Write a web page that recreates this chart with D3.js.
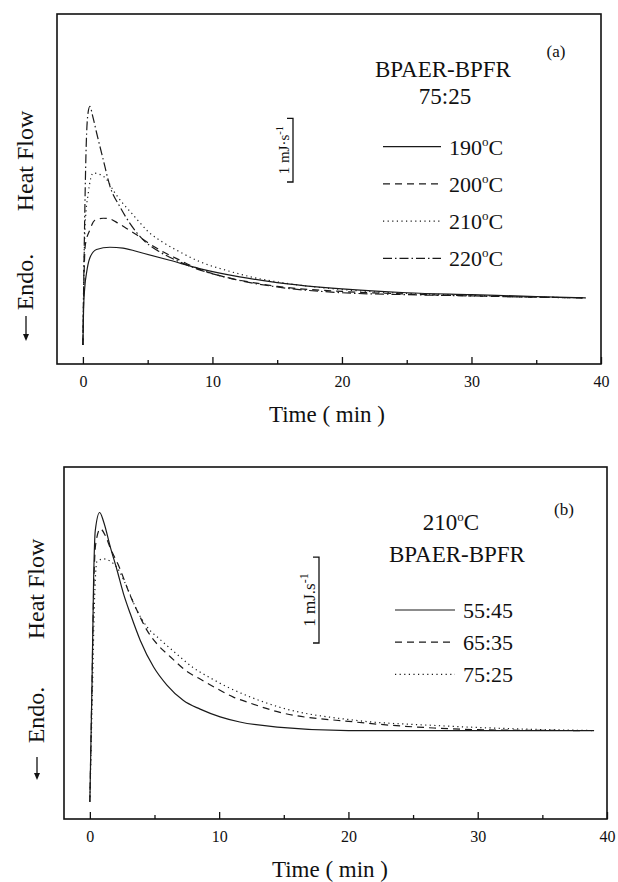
<!DOCTYPE html>
<html>
<head>
<meta charset="utf-8">
<script src="https://cdn.jsdelivr.net/npm/d3@7"></script>
<style>
  body { margin: 0; background: #fff; }
  svg text { font-family: "Liberation Serif", "Times New Roman", "DejaVu Serif", serif; fill: #111; }
</style>
</head>
<body>
<div id="chart"></div>
<script>
// ---- data: [time (min), heat flow (mJ/s, arbitrary offset)] ----

// (a) BPAER-BPFR 75:25 at four cure temperatures
const a190 = [[0,0.3],[0.05,0.85],[0.15,1.22],[0.28,1.43],[0.54,1.67],[1.05,1.80],[2.08,1.835],[3.1,1.82],[4.66,1.74],[6.7,1.63],[9.0,1.50],[12.1,1.37],[15,1.28],[20,1.18],[25,1.12],[30,1.09],[35,1.06],[38.8,1.04]];
const a200 = [[0,0.3],[0.08,1.3],[0.18,1.86],[0.54,2.11],[0.93,2.26],[1.57,2.29],[2.08,2.28],[2.73,2.21],[3.37,2.13],[4.15,2.03],[4.92,1.92],[5.95,1.79],[7.2,1.66],[9.0,1.49],[11.1,1.36],[13.4,1.27],[15,1.22],[20,1.14],[25,1.10],[30,1.07],[35,1.05],[38.8,1.04]];
const a210 = [[0,0.3],[0.08,1.5],[0.18,2.2],[0.41,2.68],[0.8,3.0],[1.3,2.98],[1.83,2.9],[2.4,2.71],[3.1,2.52],[3.76,2.37],[4.27,2.25],[5.04,2.08],[6.2,1.91],[7.5,1.76],[9.0,1.61],[11.1,1.47],[13.4,1.35],[15,1.29],[20,1.17],[25,1.11],[30,1.08],[35,1.05],[38.8,1.04]];
const a220 = [[0,0.3],[0.1,1.8],[0.25,3.4],[0.4,3.95],[0.54,4.05],[0.75,3.9],[1.06,3.63],[1.57,3.21],[2.08,2.8],[2.86,2.47],[3.63,2.21],[4.66,1.95],[5.95,1.76],[7.2,1.63],[9.0,1.48],[11.1,1.36],[12.9,1.28],[15,1.21],[20,1.12],[25,1.09],[30,1.07],[35,1.05],[38.8,1.04]];

// (b) 210 C, three BPAER-BPFR ratios
const b5545 = [[0,0.2],[0.17,1.62],[0.29,2.78],[0.42,3.36],[0.76,3.57],[1.07,3.46],[1.58,3.17],[2.1,2.9],[2.61,2.62],[3.13,2.39],[3.9,2.08],[4.93,1.77],[5.96,1.56],[7.24,1.38],[8.53,1.28],[10.08,1.19],[11.6,1.13],[14.5,1.07],[20,1.03],[30,1.03],[39,1.03]];
const b6535 = [[0,0.2],[0.17,1.6],[0.3,2.7],[0.45,3.2],[0.81,3.38],[1.2,3.3],[1.6,3.15],[2.23,2.95],[3.13,2.6],[3.77,2.39],[4.41,2.2],[5.19,2.04],[6.22,1.89],[7.5,1.72],[8.53,1.63],[9.82,1.52],[11.1,1.42],[12.4,1.35],[14.5,1.25],[20.5,1.13],[26.6,1.06],[30,1.04],[38,1.03]];
const b7525 = [[0,0.2],[0.2,1.5],[0.35,2.5],[0.55,3.0],[1.07,3.03],[1.6,3.0],[2.1,2.93],[2.87,2.7],[3.64,2.43],[4.41,2.24],[5.44,2.09],[6.73,1.92],[8.02,1.76],[9.3,1.645],[10.6,1.54],[12.1,1.44],[14.5,1.31],[20.5,1.15],[26.6,1.09],[33,1.05],[39,1.03]];

const legendA = ["190", "200", "210", "220"];
const legendB = ["55:45", "65:35", "75:25"];
const xTicks = [0, 10, 20, 30, 40];
const xMinor = [5, 15, 25, 35];

// line styles: solid, dashed, dotted, dash-dot
const dashes = [null, "7,5", "1.2,3.4", "9,3,1.5,3"];

const svg = d3.select("#chart").append("svg")
    .attr("width", 618)
    .attr("height", 882)
    .attr("font-family", "'Liberation Serif', 'Times New Roman', serif");

function drawPanel(p) {
    const g = svg.append("g");
    const x = d3.scaleLinear().domain([-2, 40]).range([p.left, p.right]);
    const y = d3.scaleLinear().domain([0, p.yMax]).range([p.bottom, p.top]);

    // frame
    g.append("rect")
        .attr("x", p.left).attr("y", p.top)
        .attr("width", p.right - p.left).attr("height", p.bottom - p.top)
        .attr("fill", "none").attr("stroke", "#111").attr("stroke-width", 1.6);

    // bottom axis, ticks pointing in
    const ax = g.append("g")
        .attr("transform", `translate(0,${p.bottom})`)
        .call(d3.axisBottom(x).tickValues(xTicks).tickSize(-7).tickPadding(12).tickFormat(d3.format("d")));
    ax.attr("font-family", null).attr("font-size", 16);
    ax.select(".domain").remove();
    ax.selectAll(".tick line").attr("stroke", "#111").attr("stroke-width", 1.3);

    const mx = g.append("g")
        .attr("transform", `translate(0,${p.bottom})`)
        .call(d3.axisBottom(x).tickValues(xMinor).tickSize(-4).tickFormat(""));
    mx.select(".domain").remove();
    mx.selectAll(".tick line").attr("stroke", "#111").attr("stroke-width", 1.3);

    g.append("text")
        .attr("x", p.titleX).attr("y", p.bottom + 58)
        .attr("text-anchor", "middle").attr("font-size", 23)
        .text("Time ( min )");

    // y label: arrow, Endo., Heat Flow
    g.append("text")
        .attr("transform", `translate(${p.ylabX},${p.heatY}) rotate(-90)`)
        .attr("text-anchor", "middle").attr("font-size", 24)
        .text("Heat Flow");
    g.append("text")
        .attr("transform", `translate(${p.ylabX},${p.endoY}) rotate(-90)`)
        .attr("text-anchor", "middle").attr("font-size", 24)
        .text("Endo.");
    const ax0 = p.ylabX - 7;
    g.append("line")
        .attr("x1", ax0).attr("x2", ax0)
        .attr("y1", p.arrowY[0]).attr("y2", p.arrowY[1] - 5)
        .attr("stroke", "#111").attr("stroke-width", 1.3);
    g.append("path")
        .attr("d", `M${ax0 - 3},${p.arrowY[1] - 7}L${ax0 + 3},${p.arrowY[1] - 7}L${ax0},${p.arrowY[1]}Z`)
        .attr("fill", "#111");

    // curves
    const line = d3.line()
        .x(d => x(d[0]))
        .y(d => y(d[1]))
        .curve(d3.curveMonotoneX);

    p.series.forEach((s, i) => {
        g.append("path")
            .datum(s)
            .attr("d", line)
            .attr("fill", "none")
            .attr("stroke", "#1a1a1a")
            .attr("stroke-width", 1.2)
            .attr("stroke-dasharray", p.dash[i]);
    });

    // scale bar (1 mJ/s)
    const yb0 = y(p.barBase), yb1 = y(p.barBase + 1);
    g.append("path")
        .attr("d", `M${p.barX - 6},${yb1}H${p.barX}V${yb0}H${p.barX - 6}`)
        .attr("fill", "none").attr("stroke", "#111").attr("stroke-width", 1.3);
    const bt = g.append("text")
        .attr("transform", `translate(${p.barX - 4},${(yb0 + yb1) / 2}) rotate(-90)`)
        .attr("text-anchor", "middle").attr("font-size", p.barFont);
    bt.append("tspan").text(p.barText);
    bt.append("tspan").attr("dy", -p.barFont * 0.4).attr("font-size", p.barFont * 0.7).text("-1");

    // headings
    p.heads.forEach(h => {
        const t = g.append("text")
            .attr("x", h.x).attr("y", h.y)
            .attr("text-anchor", "middle").attr("font-size", h.size);
        if (h.deg) {
            t.append("tspan").text(h.text);
            t.append("tspan").attr("dy", -9).attr("font-size", 13).text("o");
            t.append("tspan").attr("dy", 9).text("C");
        } else {
            t.text(h.text);
        }
    });

    // legend
    p.legend.forEach((lab, i) => {
        const ly = p.legY + i * p.legStep;
        g.append("line")
            .attr("x1", p.legX[0]).attr("x2", p.legX[1])
            .attr("y1", ly).attr("y2", ly)
            .attr("stroke", "#1a1a1a").attr("stroke-width", 1.2)
            .attr("stroke-dasharray", p.dash[i]);
        const t = g.append("text")
            .attr("x", p.legX[1] + 8).attr("y", ly + 8)
            .attr("font-size", 22);
        t.append("tspan").text(lab);
        if (p.degLegend) {
            t.append("tspan").attr("dy", -9).attr("font-size", 13).text("o");
            t.append("tspan").attr("dy", 9).text("C");
        }
    });
}

drawPanel({
    left: 57, right: 601, top: 14, bottom: 364, yMax: 5.5,
    series: [a190, a200, a210, a220], dash: dashes,
    titleX: 327, ylabX: 33, heatY: 161, endoY: 282, arrowY: [316, 341],
    barX: 293, barBase: 2.86, barText: "1 mJ\u00b7s", barFont: 15,
    heads: [
        { text: "BPAER-BPFR", x: 443, y: 77, size: 23 },
        { text: "75:25", x: 445, y: 104, size: 23 },
        { text: "(a)", x: 556, y: 57, size: 17 }
    ],
    legend: legendA, degLegend: true,
    legX: [383, 441], legY: 146.7, legStep: 37.2
});

drawPanel({
    left: 64, right: 607, top: 467, bottom: 819, yMax: 4.1,
    series: [b5545, b6535, b7525], dash: dashes,
    titleX: 330, ylabX: 44, heatY: 589, endoY: 715, arrowY: [757, 780],
    barX: 319, barBase: 2.05, barText: "1 mJ.s", barFont: 17,
    heads: [
        { text: "210", x: 451, y: 530, size: 23, deg: true },
        { text: "BPAER-BPFR", x: 457, y: 562, size: 23 },
        { text: "(b)", x: 564, y: 515, size: 17 }
    ],
    legend: legendB, degLegend: false,
    legX: [395, 455], legY: 610, legStep: 32.2
});
</script>
</body>
</html>
